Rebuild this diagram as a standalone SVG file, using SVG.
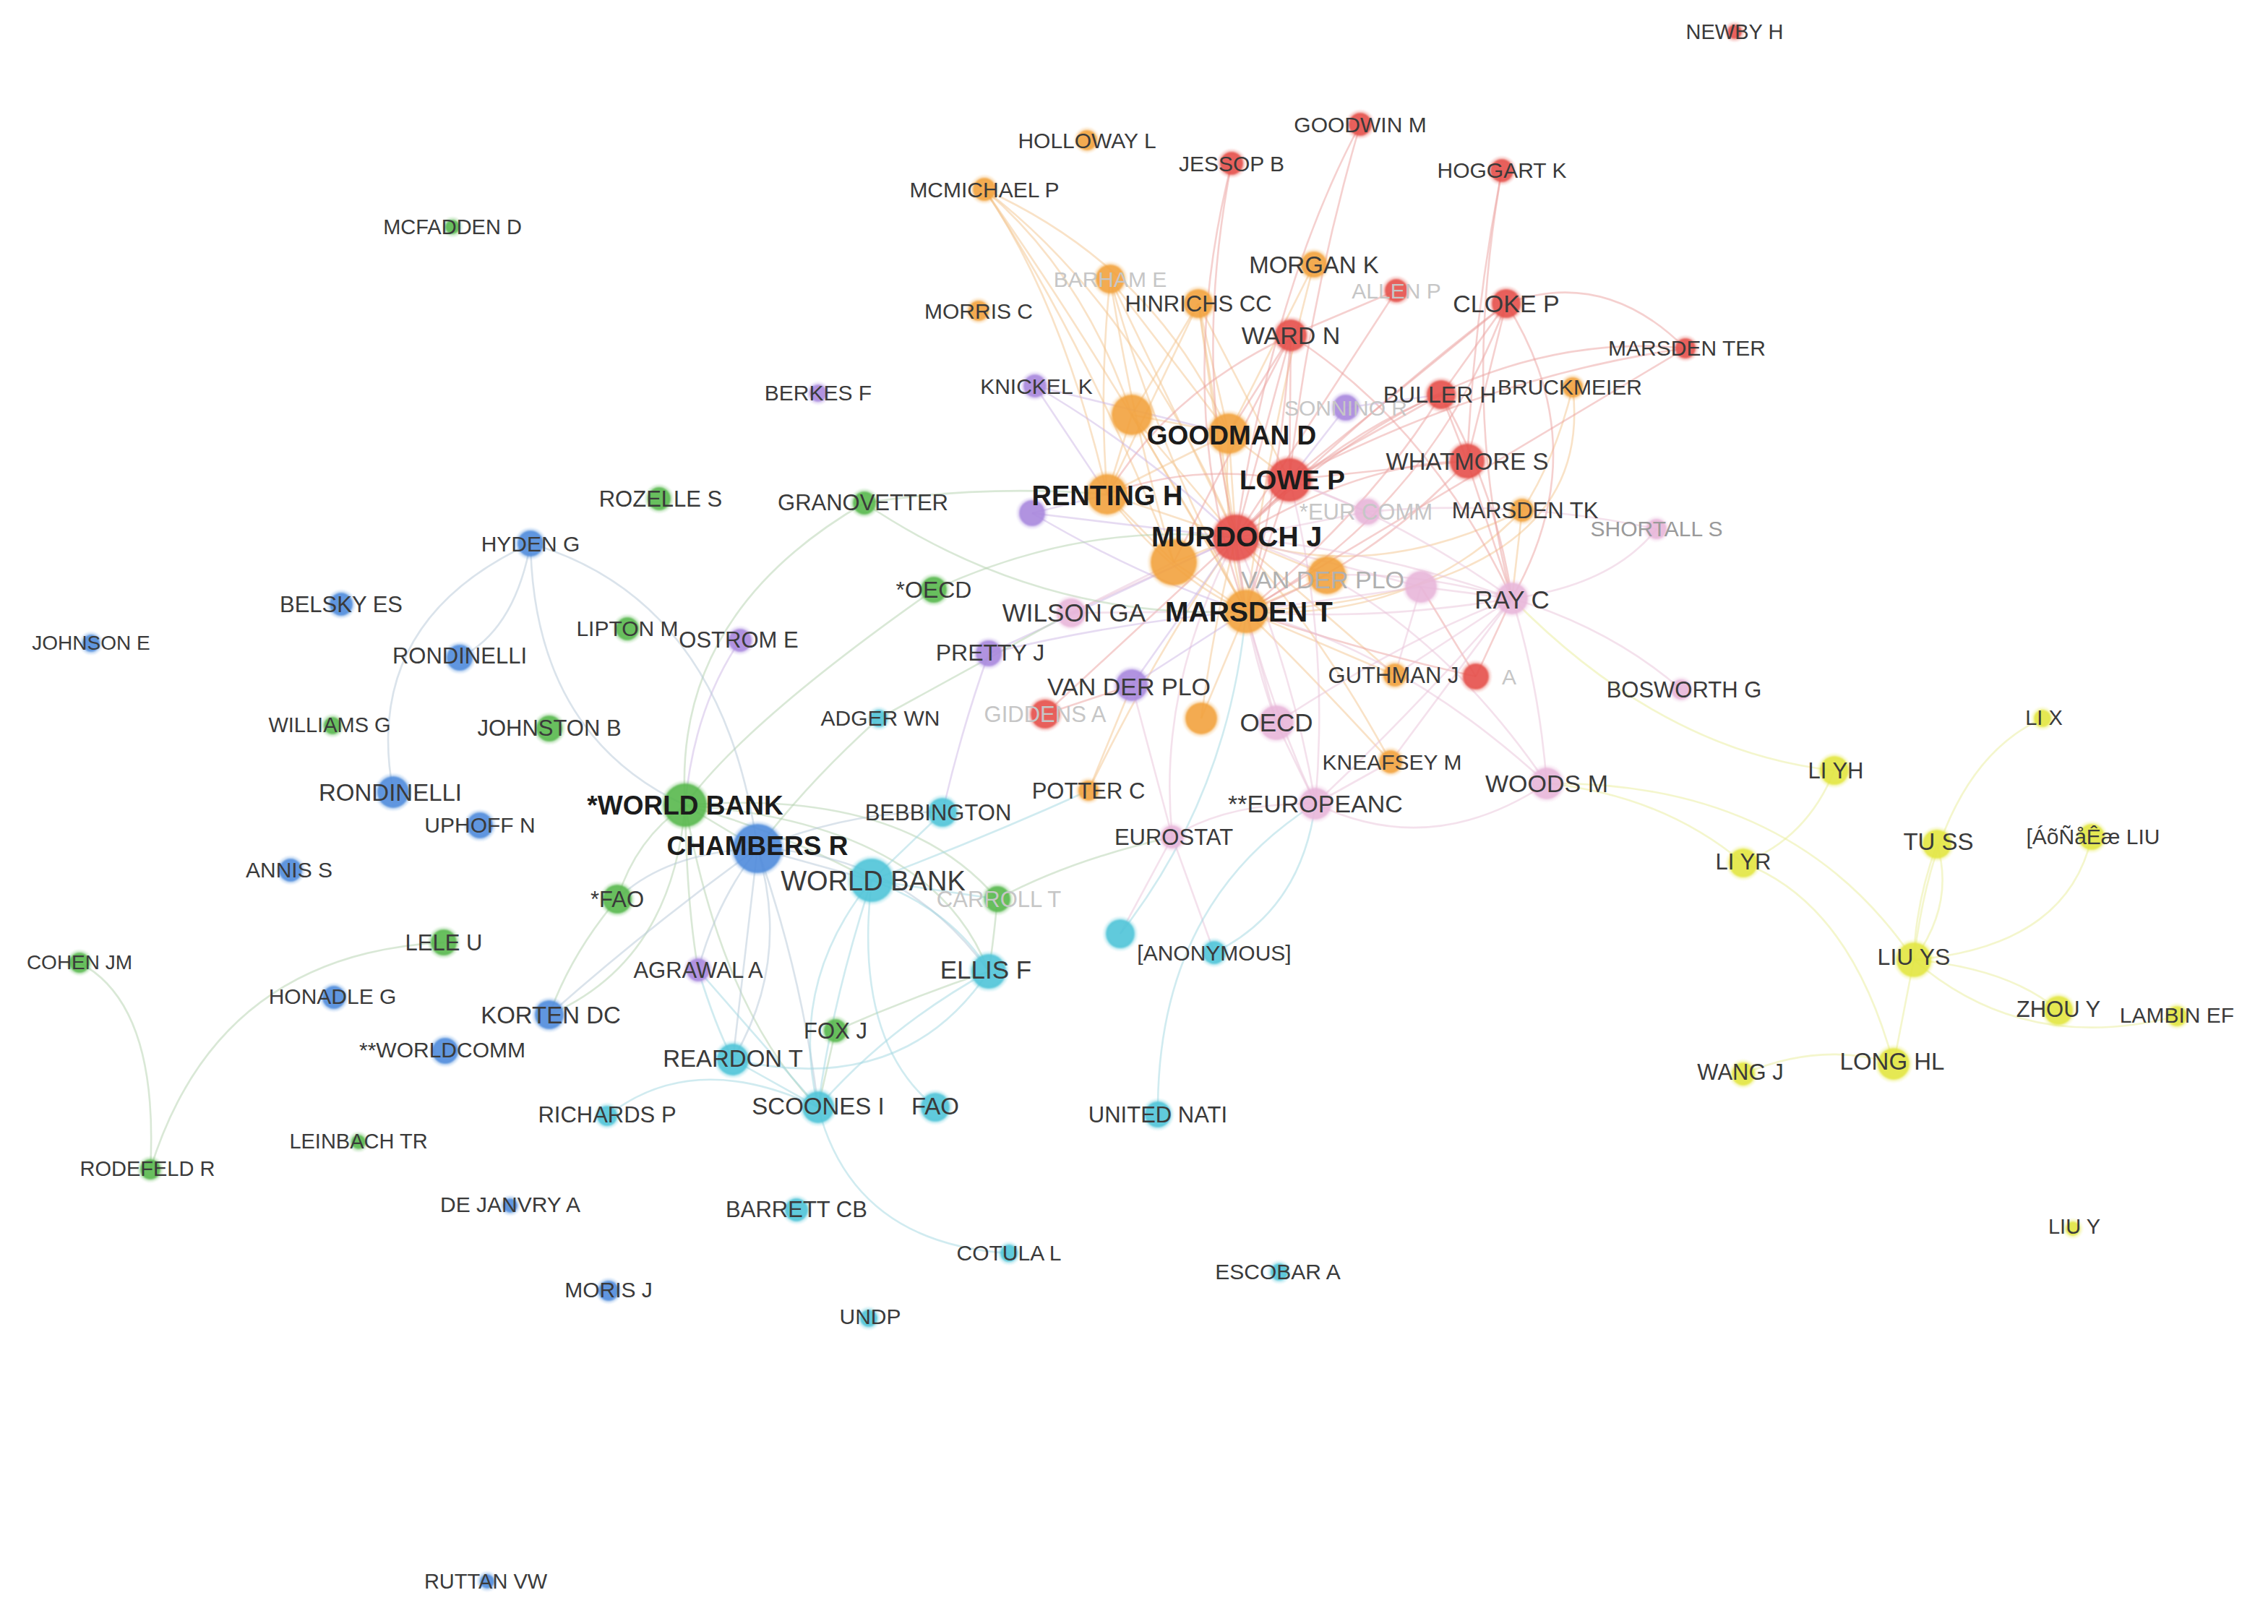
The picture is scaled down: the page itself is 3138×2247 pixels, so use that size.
<svg xmlns="http://www.w3.org/2000/svg" width="3138" height="2247" viewBox="0 0 3138 2247">
<defs>
<filter id="soft" x="-30%" y="-30%" width="160%" height="160%"><feGaussianBlur stdDeviation="1.3"/></filter>
</defs>
<style>
text{font-family:"Liberation Sans",Arial,sans-serif;fill:#3a3a3a;text-anchor:middle}
.b{font-weight:bold;fill:#1c1c1c}
.f{fill:#c6c6c6}
.m{fill:#9a9a9a}
.e path{fill:none;stroke-width:2.6;stroke-opacity:.5}
.r{stroke:#eba29f}.o{stroke:#f3c68f}.p{stroke:#eac4da}.u{stroke:#cdb8e6}.g{stroke:#b4d2ae}.l{stroke:#b6c8d8}.c{stroke:#a2d8e1}.y{stroke:#eaee9a}
circle{stroke-width:7;stroke-opacity:.22;fill-opacity:.9;filter:url(#soft)}
.nr{fill:#e5504b;stroke:#e5504b}.no{fill:#f2a23e;stroke:#f2a23e}.npu{fill:#a987dd;stroke:#a987dd}.npk{fill:#e8b6d9;stroke:#e8b6d9}
.ng{fill:#56b84e;stroke:#56b84e}.nb{fill:#4f8bdc;stroke:#4f8bdc}.nc{fill:#4fc4d8;stroke:#4fc4d8}.ny{fill:#e2e640;stroke:#e2e640}
</style>
<rect width="3138" height="2247" fill="#ffffff"/>
<g id="connectors" class="e">
<path class="o" d="M1362 262 Q1500 380 1566 574"/>
<path class="o" d="M1362 262 Q1600 370 1700 600"/>
<path class="o" d="M1362 262 Q1470 420 1532 684"/>
<path class="o" d="M1362 262 Q1570 420 1710 744"/>
<path class="o" d="M1362 262 Q1500 470 1624 778"/>
<path class="o" d="M1362 262 Q1530 500 1724 846"/>
<path class="o" d="M1536 386 Q1520 540 1532 684"/>
<path class="o" d="M1536 386 Q1570 600 1624 778"/>
<path class="o" d="M1536 386 L1710 744"/>
<path class="o" d="M1536 386 Q1600 620 1724 846"/>
<path class="o" d="M1536 386 L1700 600"/>
<path class="o" d="M1658 420 L1700 600"/>
<path class="o" d="M1658 420 L1710 744"/>
<path class="o" d="M1658 420 L1532 684"/>
<path class="o" d="M1658 420 Q1690 650 1724 846"/>
<path class="o" d="M1658 420 L1566 574"/>
<path class="o" d="M1658 420 L1784 664"/>
<path class="o" d="M1818 366 L1700 600"/>
<path class="o" d="M1818 366 Q1760 580 1724 846"/>
<path class="o" d="M1566 574 L1710 744"/>
<path class="o" d="M1566 574 Q1640 700 1724 846"/>
<path class="o" d="M1566 574 L1700 600"/>
<path class="o" d="M1566 574 L1532 684"/>
<path class="o" d="M1700 600 L1710 744"/>
<path class="o" d="M1700 600 Q1690 730 1724 846"/>
<path class="o" d="M1700 600 L1784 664"/>
<path class="o" d="M1700 600 L1532 684"/>
<path class="o" d="M1532 684 L1710 744"/>
<path class="o" d="M1532 684 Q1620 800 1724 846"/>
<path class="o" d="M1532 684 L1624 778"/>
<path class="o" d="M1624 778 L1710 744"/>
<path class="o" d="M1624 778 L1724 846"/>
<path class="o" d="M1836 796 L1724 846"/>
<path class="o" d="M1836 796 L1710 744"/>
<path class="o" d="M1662 994 L1724 846"/>
<path class="o" d="M1662 994 Q1680 860 1710 744"/>
<path class="o" d="M1924 1054 Q1820 940 1724 846"/>
<path class="o" d="M1924 1054 Q1830 880 1710 744"/>
<path class="o" d="M1930 934 L1724 846"/>
<path class="o" d="M1930 934 Q1800 820 1710 744"/>
<path class="o" d="M1506 1094 Q1600 900 1710 744"/>
<path class="o" d="M1506 1094 L1566 948"/>
<path class="o" d="M2176 536 Q2210 820 1724 846"/>
<path class="o" d="M2176 536 Q2150 640 2106 706"/>
<path class="o" d="M2106 706 Q1900 810 1710 744"/>
<path class="o" d="M2106 706 Q1960 860 1724 846"/>
<path class="o" d="M2106 706 L2092 828"/>
<path class="r" d="M1704 226 Q1650 500 1710 744"/>
<path class="r" d="M1704 226 Q1620 560 1724 846"/>
<path class="r" d="M1882 172 Q1760 400 1710 744"/>
<path class="r" d="M1882 172 Q1810 420 1784 664"/>
<path class="r" d="M2078 236 Q2040 430 2030 638"/>
<path class="r" d="M2078 236 Q2020 560 2092 828"/>
<path class="r" d="M1932 402 L1786 464"/>
<path class="r" d="M1932 402 Q1830 560 1710 744"/>
<path class="r" d="M1786 464 L1710 744"/>
<path class="r" d="M1786 464 L1784 664"/>
<path class="r" d="M1786 464 Q1770 680 1724 846"/>
<path class="r" d="M1786 464 Q1980 590 2092 828"/>
<path class="r" d="M1786 464 Q1620 540 1532 684"/>
<path class="r" d="M1786 464 L1624 778"/>
<path class="r" d="M1786 464 L1700 600"/>
<path class="r" d="M2084 420 Q2220 370 2332 482"/>
<path class="r" d="M2084 420 L1784 664"/>
<path class="r" d="M2084 420 Q1900 560 1710 744"/>
<path class="r" d="M2084 420 Q1980 700 1724 846"/>
<path class="r" d="M2084 420 L2030 638"/>
<path class="r" d="M2084 420 Q2210 620 2092 828"/>
<path class="r" d="M2084 420 L1994 546"/>
<path class="r" d="M2332 482 Q2020 450 1710 744"/>
<path class="r" d="M2332 482 Q2100 620 1724 846"/>
<path class="r" d="M2332 482 Q2060 520 1784 664"/>
<path class="r" d="M1994 546 L1784 664"/>
<path class="r" d="M1994 546 Q1850 600 1710 744"/>
<path class="r" d="M1994 546 Q1900 700 1724 846"/>
<path class="r" d="M1994 546 L2030 638"/>
<path class="r" d="M1994 546 Q2070 680 2092 828"/>
<path class="r" d="M2030 638 Q1880 640 1710 744"/>
<path class="r" d="M2030 638 L1784 664"/>
<path class="r" d="M2030 638 Q1900 780 1724 846"/>
<path class="r" d="M2030 638 L2092 828"/>
<path class="r" d="M1784 664 L1710 744"/>
<path class="r" d="M1784 664 L1724 846"/>
<path class="r" d="M1784 664 Q1650 640 1532 684"/>
<path class="r" d="M1710 744 L1724 846"/>
<path class="r" d="M2042 936 L2092 828"/>
<path class="r" d="M2042 936 Q1880 900 1724 846"/>
<path class="r" d="M2042 936 L1966 812"/>
<path class="r" d="M1446 988 L1710 744"/>
<path class="r" d="M1446 988 L1566 948"/>
<path class="u" d="M1862 564 L1784 664"/>
<path class="u" d="M1862 564 L1994 546"/>
<path class="p" d="M2092 828 Q2230 870 2326 954"/>
<path class="p" d="M2092 828 Q2230 810 2292 732"/>
<path class="p" d="M2092 828 Q1900 760 1710 744"/>
<path class="p" d="M2092 828 Q1900 860 1724 846"/>
<path class="p" d="M2092 828 Q1940 720 1784 664"/>
<path class="p" d="M2092 828 L1966 812"/>
<path class="p" d="M2092 828 L1930 934"/>
<path class="p" d="M2092 828 L1924 1054"/>
<path class="p" d="M2092 828 Q1960 790 1836 796"/>
<path class="p" d="M2140 1084 Q2130 950 2092 828"/>
<path class="p" d="M2140 1084 Q1940 900 1724 846"/>
<path class="p" d="M2140 1084 Q1960 820 1710 744"/>
<path class="p" d="M1820 1112 Q1980 1190 2140 1084"/>
<path class="p" d="M1820 1112 L1766 1000"/>
<path class="p" d="M1820 1112 L1924 1054"/>
<path class="p" d="M1820 1112 Q1760 980 1724 846"/>
<path class="p" d="M1820 1112 Q1790 930 1710 744"/>
<path class="p" d="M1820 1112 Q1960 980 2092 828"/>
<path class="p" d="M1820 1112 Q1840 880 1784 664"/>
<path class="p" d="M1820 1112 Q1700 1110 1622 1158"/>
<path class="p" d="M1766 1000 L1724 846"/>
<path class="p" d="M1766 1000 Q1720 870 1710 744"/>
<path class="p" d="M1766 1000 Q1950 880 2092 828"/>
<path class="p" d="M1966 812 L1724 846"/>
<path class="p" d="M1966 812 L1710 744"/>
<path class="p" d="M1966 812 L1930 934"/>
<path class="p" d="M2292 732 Q2100 690 1892 708"/>
<path class="p" d="M1892 708 L1784 664"/>
<path class="p" d="M1892 708 L1710 744"/>
<path class="p" d="M1482 848 L1724 846"/>
<path class="p" d="M1482 848 L1710 744"/>
<path class="p" d="M1482 848 L1624 778"/>
<path class="p" d="M1622 1158 Q1600 950 1710 744"/>
<path class="p" d="M1622 1158 L1566 948"/>
<path class="p" d="M1622 1158 L1680 1318"/>
<path class="p" d="M1550 1292 L1622 1158"/>
<path class="u" d="M1432 534 L1700 600"/>
<path class="u" d="M1432 534 L1532 684"/>
<path class="u" d="M1432 534 Q1580 620 1710 744"/>
<path class="u" d="M1428 710 L1710 744"/>
<path class="u" d="M1428 710 L1532 684"/>
<path class="u" d="M1428 710 Q1580 800 1724 846"/>
<path class="u" d="M1368 904 Q1550 860 1724 846"/>
<path class="u" d="M1368 904 L1710 744"/>
<path class="u" d="M1368 904 Q1330 1010 1304 1124"/>
<path class="u" d="M1566 948 L1724 846"/>
<path class="u" d="M1566 948 L1710 744"/>
<path class="u" d="M1024 886 Q960 980 948 1114"/>
<path class="g" d="M110 1332 Q220 1390 208 1618"/>
<path class="g" d="M614 1304 Q300 1320 208 1618"/>
<path class="g" d="M1196 696 Q930 850 948 1114"/>
<path class="g" d="M1196 696 Q1360 670 1532 684"/>
<path class="g" d="M1196 696 Q1440 860 1724 846"/>
<path class="g" d="M1292 816 Q1030 1000 948 1114"/>
<path class="g" d="M1292 816 Q1500 720 1710 744"/>
<path class="g" d="M948 1114 L1048 1174"/>
<path class="g" d="M948 1114 Q880 1160 854 1244"/>
<path class="g" d="M948 1114 Q930 1330 760 1404"/>
<path class="g" d="M948 1114 Q950 1250 966 1342"/>
<path class="g" d="M948 1114 Q1000 1400 1132 1532"/>
<path class="g" d="M948 1114 Q1250 1090 1380 1244"/>
<path class="g" d="M948 1114 Q1290 1140 1368 1344"/>
<path class="g" d="M948 1114 Q1080 1150 1206 1218"/>
<path class="g" d="M854 1244 Q790 1320 760 1404"/>
<path class="g" d="M1380 1244 Q1375 1300 1368 1344"/>
<path class="g" d="M1380 1244 Q1480 1190 1622 1158"/>
<path class="g" d="M1156 1426 Q1260 1380 1368 1344"/>
<path class="g" d="M1156 1426 L1132 1532"/>
<path class="g" d="M1216 994 Q1120 1080 1048 1174"/>
<path class="g" d="M1216 994 L1482 848"/>
<path class="l" d="M734 752 Q712 872 636 910"/>
<path class="l" d="M734 752 Q500 860 544 1096"/>
<path class="l" d="M734 752 Q739 1017 948 1114"/>
<path class="l" d="M734 752 Q1000 830 1048 1174"/>
<path class="l" d="M1048 1174 Q920 1180 854 1244"/>
<path class="l" d="M1048 1174 Q990 1250 966 1342"/>
<path class="l" d="M1048 1174 Q1030 1330 1014 1466"/>
<path class="l" d="M1048 1174 Q1095 1330 1014 1466"/>
<path class="l" d="M1048 1174 Q1110 1350 1132 1532"/>
<path class="l" d="M1048 1174 L1206 1218"/>
<path class="l" d="M1048 1174 Q900 1280 760 1404"/>
<path class="l" d="M1048 1174 Q1250 1180 1368 1344"/>
<path class="l" d="M1048 1174 Q1180 1120 1304 1124"/>
<path class="c" d="M1206 1218 Q1090 1360 1132 1532"/>
<path class="c" d="M1206 1218 Q1150 1390 1132 1532"/>
<path class="c" d="M1206 1218 Q1180 1440 1294 1532"/>
<path class="c" d="M1206 1218 Q1320 1260 1368 1344"/>
<path class="c" d="M1304 1124 L1206 1218"/>
<path class="c" d="M1206 1218 Q1360 1160 1506 1094"/>
<path class="c" d="M1206 1218 L1380 1244"/>
<path class="c" d="M1368 1344 Q1230 1420 1132 1532"/>
<path class="c" d="M1368 1344 Q1250 1520 1014 1466"/>
<path class="c" d="M1132 1532 L1014 1466"/>
<path class="c" d="M840 1544 Q960 1450 1132 1532"/>
<path class="c" d="M1132 1532 Q1180 1720 1396 1734"/>
<path class="c" d="M966 1342 Q990 1420 1014 1466"/>
<path class="c" d="M966 1342 Q1060 1450 1132 1532"/>
<path class="c" d="M1820 1112 Q1800 1260 1680 1318"/>
<path class="c" d="M1602 1542 Q1600 1250 1820 1112"/>
<path class="c" d="M1550 1292 Q1700 1100 1724 846"/>
<path class="y" d="M2826 994 Q2680 1060 2648 1328"/>
<path class="y" d="M2680 1168 Q2705 1250 2648 1328"/>
<path class="y" d="M2680 1168 Q2650 1250 2648 1328"/>
<path class="y" d="M2894 1158 Q2860 1310 2648 1328"/>
<path class="y" d="M2648 1328 Q2780 1340 2848 1398"/>
<path class="y" d="M2648 1328 Q2800 1460 3012 1406"/>
<path class="y" d="M2648 1328 L2620 1472"/>
<path class="y" d="M2620 1472 Q2520 1440 2412 1486"/>
<path class="y" d="M2538 1066 Q2500 1160 2412 1194"/>
<path class="y" d="M2412 1194 Q2560 1250 2620 1472"/>
<path class="y" d="M2092 828 Q2300 1040 2538 1066"/>
<path class="y" d="M2140 1084 Q2480 1080 2648 1328"/>
<path class="y" d="M2140 1084 Q2300 1100 2412 1194"/>
</g>
<g id="nodes">
<g id="node-orange-a"><circle class="no" cx="1566" cy="574" r="28"/></g>
<g id="node-orange-b"><circle class="no" cx="1624" cy="778" r="32"/></g>
<g id="node-orange-c"><circle class="no" cx="1662" cy="994" r="22"/></g>
<g id="node-purple-a"><circle class="npu" cx="1428" cy="710" r="18"/></g>
<g id="node-pink-a"><circle class="npk" cx="1966" cy="812" r="22"/></g>
<g id="node-cyan-a"><circle class="nc" cx="1550" cy="1292" r="20"/></g>
<g id="node-newby-h"><circle class="nr" cx="2400" cy="44" r="10"/><text x="2400" y="54" font-size="29">NEWBY H</text></g>
<g id="node-holloway-l"><circle class="no" cx="1504" cy="194" r="14"/><text x="1504" y="205" font-size="30">HOLLOWAY L</text></g>
<g id="node-goodwin-m"><circle class="nr" cx="1882" cy="172" r="16"/><text x="1882" y="183" font-size="30">GOODWIN M</text></g>
<g id="node-jessop-b"><circle class="nr" cx="1704" cy="226" r="16"/><text x="1704" y="237" font-size="30">JESSOP B</text></g>
<g id="node-hoggart-k"><circle class="nr" cx="2078" cy="236" r="16"/><text x="2078" y="246" font-size="30">HOGGART K</text></g>
<g id="node-mcmichael-p"><circle class="no" cx="1362" cy="262" r="16"/><text x="1362" y="273" font-size="30">MCMICHAEL P</text></g>
<g id="node-mcfadden-d"><circle class="ng" cx="626" cy="314" r="10"/><text x="626" y="324" font-size="29">MCFADDEN D</text></g>
<g id="node-barham-e"><circle class="no" cx="1536" cy="386" r="20"/><text class="f" x="1536" y="397" font-size="30">BARHAM E</text></g>
<g id="node-morgan-k"><circle class="no" cx="1818" cy="366" r="18"/><text x="1818" y="378" font-size="33">MORGAN K</text></g>
<g id="node-allen-p"><circle class="nr" cx="1932" cy="402" r="16"/><text class="f" x="1932" y="413" font-size="30">ALLEN P</text></g>
<g id="node-cloke-p"><circle class="nr" cx="2084" cy="420" r="20"/><text x="2084" y="432" font-size="34">CLOKE P</text></g>
<g id="node-hinrichs-cc"><circle class="no" cx="1658" cy="420" r="20"/><text x="1658" y="431" font-size="31">HINRICHS CC</text></g>
<g id="node-morris-c"><circle class="no" cx="1354" cy="430" r="14"/><text x="1354" y="441" font-size="30">MORRIS C</text></g>
<g id="node-ward-n"><circle class="nr" cx="1786" cy="464" r="22"/><text x="1786" y="476" font-size="34">WARD N</text></g>
<g id="node-marsden-ter"><circle class="nr" cx="2332" cy="482" r="14"/><text x="2334" y="492" font-size="30">MARSDEN TER</text></g>
<g id="node-berkes-f"><circle class="npu" cx="1132" cy="544" r="12"/><text x="1132" y="554" font-size="30">BERKES F</text></g>
<g id="node-knickel-k"><circle class="npu" cx="1432" cy="534" r="16"/><text x="1434" y="545" font-size="30">KNICKEL K</text></g>
<g id="node-sonnino-r"><circle class="npu" cx="1862" cy="564" r="18"/><text class="f" x="1862" y="575" font-size="30">SONNINO R</text></g>
<g id="node-buller-h"><circle class="nr" cx="1994" cy="546" r="20"/><text x="1992" y="557" font-size="32">BULLER H</text></g>
<g id="node-bruckmeier"><circle class="no" cx="2176" cy="536" r="14"/><text x="2172" y="546" font-size="30">BRUCKMEIER</text></g>
<g id="node-eur-comm"><circle class="npk" cx="1892" cy="708" r="18"/><text class="f" x="1890" y="719" font-size="31">*EUR COMM</text></g>
<g id="node-marsden-tk"><circle class="no" cx="2106" cy="706" r="16"/><text x="2110" y="717" font-size="31">MARSDEN TK</text></g>
<g id="node-shortall-s"><circle class="npk" cx="2292" cy="732" r="14"/><text class="m" x="2292" y="742" font-size="30">SHORTALL S</text></g>
<g id="node-van-der-plo-a"><circle class="no" cx="1836" cy="796" r="26"/><text x="1830" y="814" font-size="34" style="fill:#b0b0b0">VAN DER PLO</text></g>
<g id="node-ray-c"><circle class="npk" cx="2092" cy="828" r="22"/><text x="2092" y="842" font-size="35">RAY C</text></g>
<g id="node-wilson-ga"><circle class="npk" cx="1482" cy="848" r="20"/><text x="1486" y="860" font-size="35">WILSON GA</text></g>
<g id="node-oecd-star"><circle class="ng" cx="1292" cy="816" r="18"/><text x="1292" y="827" font-size="32">*OECD</text></g>
<g id="node-pretty-j"><circle class="npu" cx="1368" cy="904" r="18"/><text x="1370" y="914" font-size="32">PRETTY J</text></g>
<g id="node-red-a"><circle class="nr" cx="2042" cy="936" r="18"/><text class="f" x="2088" y="947" font-size="30">A</text></g>
<g id="node-guthman-j"><circle class="no" cx="1930" cy="934" r="16"/><text x="1928" y="945" font-size="31">GUTHMAN J</text></g>
<g id="node-van-der-plo-b"><circle class="npu" cx="1566" cy="948" r="22"/><text x="1562" y="962" font-size="34">VAN DER PLO</text></g>
<g id="node-adger-wn"><circle class="nc" cx="1216" cy="994" r="12"/><text x="1218" y="1004" font-size="30">ADGER WN</text></g>
<g id="node-giddens-a"><circle class="nr" cx="1446" cy="988" r="20"/><text class="f" x="1446" y="999" font-size="31">GIDDENS A</text></g>
<g id="node-oecd"><circle class="npk" cx="1766" cy="1000" r="24"/><text x="1766" y="1012" font-size="35">OECD</text></g>
<g id="node-kneafsey-m"><circle class="no" cx="1924" cy="1054" r="16"/><text x="1926" y="1065" font-size="30">KNEAFSEY M</text></g>
<g id="node-woods-m"><circle class="npk" cx="2140" cy="1084" r="22"/><text x="2140" y="1096" font-size="34">WOODS M</text></g>
<g id="node-europeanc"><circle class="npk" cx="1820" cy="1112" r="22"/><text x="1820" y="1124" font-size="34">**EUROPEANC</text></g>
<g id="node-potter-c"><circle class="no" cx="1506" cy="1094" r="14"/><text x="1506" y="1105" font-size="31">POTTER C</text></g>
<g id="node-bebbington"><circle class="nc" cx="1304" cy="1124" r="20"/><text x="1298" y="1135" font-size="31">BEBBINGTON</text></g>
<g id="node-eurostat"><circle class="npk" cx="1622" cy="1158" r="16"/><text x="1624" y="1169" font-size="31">EUROSTAT</text></g>
<g id="node-carroll-t"><circle class="ng" cx="1380" cy="1244" r="18"/><text class="f" x="1382" y="1255" font-size="31">CARROLL T</text></g>
<g id="node-anonymous"><circle class="nc" cx="1680" cy="1318" r="16"/><text x="1680" y="1329" font-size="30">[ANONYMOUS]</text></g>
<g id="node-ellis-f"><circle class="nc" cx="1368" cy="1344" r="24"/><text x="1364" y="1354" font-size="35">ELLIS F</text></g>
<g id="node-fao-star"><circle class="ng" cx="854" cy="1244" r="20"/><text x="854" y="1255" font-size="31">*FAO</text></g>
<g id="node-agrawal-a"><circle class="npu" cx="966" cy="1342" r="16"/><text x="966" y="1353" font-size="31">AGRAWAL A</text></g>
<g id="node-korten-dc"><circle class="nb" cx="760" cy="1404" r="20"/><text x="762" y="1416" font-size="33">KORTEN DC</text></g>
<g id="node-fox-j"><circle class="ng" cx="1156" cy="1426" r="16"/><text x="1156" y="1437" font-size="31">FOX J</text></g>
<g id="node-reardon-t"><circle class="nc" cx="1014" cy="1466" r="22"/><text x="1014" y="1476" font-size="33">REARDON T</text></g>
<g id="node-richards-p"><circle class="nc" cx="840" cy="1544" r="14"/><text x="840" y="1553" font-size="31">RICHARDS P</text></g>
<g id="node-scoones-i"><circle class="nc" cx="1132" cy="1532" r="22"/><text x="1132" y="1542" font-size="33">SCOONES I</text></g>
<g id="node-fao"><circle class="nc" cx="1294" cy="1532" r="20"/><text x="1294" y="1542" font-size="33">FAO</text></g>
<g id="node-united-nati"><circle class="nc" cx="1602" cy="1542" r="18"/><text x="1602" y="1553" font-size="31">UNITED NATI</text></g>
<g id="node-barrett-cb"><circle class="nc" cx="1102" cy="1674" r="16"/><text x="1102" y="1684" font-size="31">BARRETT CB</text></g>
<g id="node-cotula-l"><circle class="nc" cx="1396" cy="1734" r="12"/><text x="1396" y="1744" font-size="30">COTULA L</text></g>
<g id="node-escobar-a"><circle class="nc" cx="1770" cy="1760" r="12"/><text x="1768" y="1770" font-size="30">ESCOBAR A</text></g>
<g id="node-undp"><circle class="nc" cx="1202" cy="1824" r="12"/><text x="1204" y="1832" font-size="30">UNDP</text></g>
<g id="node-moris-j"><circle class="nb" cx="842" cy="1786" r="14"/><text x="842" y="1795" font-size="30">MORIS J</text></g>
<g id="node-de-janvry-a"><circle class="nb" cx="706" cy="1668" r="10"/><text x="706" y="1677" font-size="30">DE JANVRY A</text></g>
<g id="node-leinbach-tr"><circle class="ng" cx="496" cy="1580" r="10"/><text x="496" y="1589" font-size="29">LEINBACH TR</text></g>
<g id="node-rodefeld-r"><circle class="ng" cx="208" cy="1618" r="14"/><text x="204" y="1627" font-size="29">RODEFELD R</text></g>
<g id="node-cohen-jm"><circle class="ng" cx="110" cy="1332" r="14"/><text x="110" y="1341" font-size="28">COHEN JM</text></g>
<g id="node-lele-u"><circle class="ng" cx="614" cy="1304" r="18"/><text x="614" y="1315" font-size="31">LELE U</text></g>
<g id="node-honadle-g"><circle class="nb" cx="462" cy="1380" r="16"/><text x="460" y="1389" font-size="30">HONADLE G</text></g>
<g id="node-worldcomm"><circle class="nb" cx="616" cy="1454" r="18"/><text x="612" y="1463" font-size="30">**WORLDCOMM</text></g>
<g id="node-annis-s"><circle class="nb" cx="402" cy="1204" r="16"/><text x="400" y="1214" font-size="30">ANNIS S</text></g>
<g id="node-uphoff-n"><circle class="nb" cx="664" cy="1142" r="18"/><text x="664" y="1152" font-size="30">UPHOFF N</text></g>
<g id="node-rondinelli-b"><circle class="nb" cx="544" cy="1096" r="22"/><text x="540" y="1108" font-size="33">RONDINELLI</text></g>
<g id="node-williams-g"><circle class="ng" cx="460" cy="1004" r="12"/><text x="456" y="1013" font-size="29">WILLIAMS G</text></g>
<g id="node-johnston-b"><circle class="ng" cx="760" cy="1008" r="18"/><text x="760" y="1018" font-size="31">JOHNSTON B</text></g>
<g id="node-rondinelli-a"><circle class="nb" cx="636" cy="910" r="18"/><text x="636" y="918" font-size="31">RONDINELLI</text></g>
<g id="node-belsky-es"><circle class="nb" cx="472" cy="836" r="16"/><text x="472" y="847" font-size="31">BELSKY ES</text></g>
<g id="node-johnson-e"><circle class="nb" cx="126" cy="890" r="12"/><text x="126" y="899" font-size="28">JOHNSON E</text></g>
<g id="node-hyden-g"><circle class="nb" cx="734" cy="752" r="18"/><text x="734" y="763" font-size="30">HYDEN G</text></g>
<g id="node-rozelle-s"><circle class="ng" cx="912" cy="690" r="16"/><text x="914" y="701" font-size="31">ROZELLE S</text></g>
<g id="node-granovetter"><circle class="ng" cx="1196" cy="696" r="16"/><text x="1194" y="706" font-size="31">GRANOVETTER</text></g>
<g id="node-lipton-m"><circle class="ng" cx="868" cy="870" r="16"/><text x="868" y="880" font-size="30">LIPTON M</text></g>
<g id="node-ostrom-e"><circle class="npu" cx="1024" cy="886" r="16"/><text x="1022" y="896" font-size="31">OSTROM E</text></g>
<g id="node-ruttan-vw"><circle class="nb" cx="674" cy="2188" r="10"/><text x="672" y="2198" font-size="29">RUTTAN VW</text></g>
<g id="node-bosworth-g"><circle class="npk" cx="2326" cy="954" r="14"/><text x="2330" y="965" font-size="31">BOSWORTH G</text></g>
<g id="node-li-yh"><circle class="ny" cx="2538" cy="1066" r="20"/><text x="2540" y="1077" font-size="31">LI YH</text></g>
<g id="node-li-x"><circle class="ny" cx="2826" cy="994" r="12"/><text x="2828" y="1003" font-size="29">LI X</text></g>
<g id="node-li-yr"><circle class="ny" cx="2412" cy="1194" r="20"/><text x="2412" y="1203" font-size="31">LI YR</text></g>
<g id="node-tu-ss"><circle class="ny" cx="2680" cy="1168" r="20"/><text x="2682" y="1176" font-size="33">TU SS</text></g>
<g id="node-liu-a"><circle class="ny" cx="2894" cy="1158" r="18"/><text x="2896" y="1168" font-size="30">[ÁõÑåÊæ LIU</text></g>
<g id="node-liu-ys"><circle class="ny" cx="2648" cy="1328" r="24"/><text x="2648" y="1335" font-size="32">LIU YS</text></g>
<g id="node-zhou-y"><circle class="ny" cx="2848" cy="1398" r="20"/><text x="2848" y="1407" font-size="31">ZHOU Y</text></g>
<g id="node-lambin-ef"><circle class="ny" cx="3012" cy="1406" r="14"/><text x="3012" y="1415" font-size="30">LAMBIN EF</text></g>
<g id="node-wang-j"><circle class="ny" cx="2412" cy="1486" r="16"/><text x="2408" y="1494" font-size="31">WANG J</text></g>
<g id="node-long-hl"><circle class="ny" cx="2620" cy="1472" r="22"/><text x="2618" y="1480" font-size="33">LONG HL</text></g>
<g id="node-liu-y"><circle class="ny" cx="2868" cy="1700" r="10"/><text x="2870" y="1707" font-size="29">LIU Y</text></g>
<g id="node-world-bank"><circle class="nc" cx="1206" cy="1218" r="30"/><text x="1208" y="1232" font-size="38">WORLD BANK</text></g>
<g id="node-whatmore-s"><circle class="nr" cx="2030" cy="638" r="24"/><text x="2030" y="650" font-size="33">WHATMORE S</text></g>
<g id="node-goodman-d"><circle class="no" cx="1700" cy="600" r="28"/><text class="b" x="1704" y="615" font-size="37">GOODMAN D</text></g>
<g id="node-renting-h"><circle class="no" cx="1532" cy="684" r="28"/><text class="b" x="1532" y="699" font-size="38">RENTING H</text></g>
<g id="node-lowe-p"><circle class="nr" cx="1784" cy="664" r="30"/><text class="b" x="1788" y="677" font-size="37">LOWE P</text></g>
<g id="node-murdoch-j"><circle class="nr" cx="1710" cy="744" r="32"/><text class="b" x="1711" y="756" font-size="39">MURDOCH J</text></g>
<g id="node-marsden-t"><circle class="no" cx="1724" cy="846" r="30"/><text class="b" x="1728" y="860" font-size="39">MARSDEN T</text></g>
<g id="node-world-bank-star"><circle class="ng" cx="948" cy="1114" r="30"/><text class="b" x="948" y="1127" font-size="37">*WORLD BANK</text></g>
<g id="node-chambers-r"><circle class="nb" cx="1048" cy="1174" r="34"/><text class="b" x="1048" y="1183" font-size="37">CHAMBERS R</text></g>
</g>
</svg>
